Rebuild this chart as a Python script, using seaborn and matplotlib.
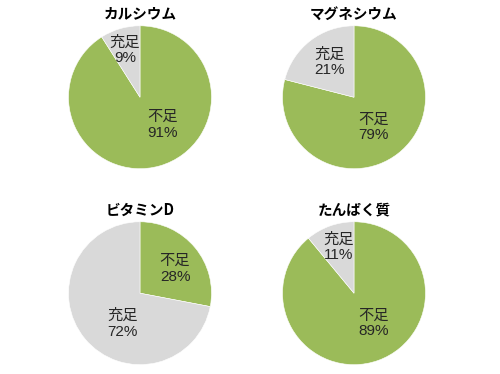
import numpy as np
import matplotlib
matplotlib.use("Agg")
import matplotlib.pyplot as plt
import seaborn as sns

# data
titles = ['カルシウム', 'マグネシウム', 'ビタミンD', 'たんぱく質']
categories = ['不足', '充足']
shortage = [91, 79, 28, 89]
enough = [9, 21, 72, 11]

sns.set_theme(style="white")
plt.rcParams['font.family'] = ['Noto Sans CJK JP', 'DejaVu Sans']

colors = ['#9BBB59', '#D9D9D9']

fig = plt.figure(figsize=(5, 3.74), dpi=100)

# axes boxes (left, bottom) for the 2x2 layout
w, h = 0.286, 0.382
boxes = [(0.137, 0.549), (0.565, 0.549), (0.137, 0.025), (0.565, 0.025)]

# label placement inside the pie (radius units), like excel's best fit
label_pos = [
    [(0.32, -0.39), (-0.21, 0.66)],
    [(0.27, -0.42), (-0.34, 0.49)],
    [(0.49, 0.34), (-0.24, -0.43)],
    [(0.28, -0.42), (-0.21, 0.64)],
]

for i in range(4):
    ax = fig.add_axes([boxes[i][0], boxes[i][1], w, h])
    vals = [shortage[i], enough[i]]
    wedges, _ = ax.pie(vals, colors=colors, startangle=90, counterclock=False,
                       wedgeprops=dict(edgecolor='white', linewidth=0.4))
    ax.set_xlim(-1, 1)
    ax.set_ylim(-1, 1)
    ax.set_aspect('auto')
    ax.axis('off')

    for (x, y), cat, v in zip(label_pos[i], categories, vals):
        ax.text(x, y, f'{cat}\n{v}%', ha='center', va='center',
                fontsize=11, color='#262626', linespacing=1.15,
                family=['Liberation Sans', 'Noto Sans CJK JP'])

    ax.text(0, 1.17, titles[i], ha='center', va='center', fontsize=10.5,
            fontweight='bold', color='black', clip_on=False)

plt.savefig('out.png', dpi=100)
